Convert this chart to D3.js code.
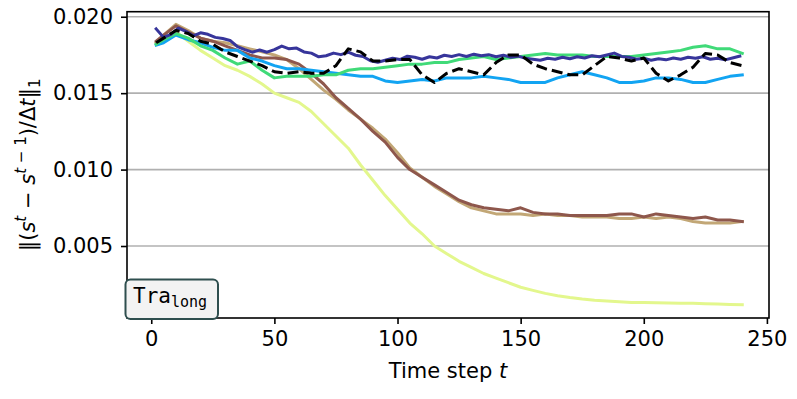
<!DOCTYPE html>
<html>
<head>
<meta charset="utf-8">
<script src="https://cdn.jsdelivr.net/npm/d3@7"></script>
<style>
  body { margin: 0; background: #fff; }
  svg { display: block; font-family: "DejaVu Sans", sans-serif; }
</style>
</head>
<body>
<div id="chart-area"></div>
<script>
const margin = ({top: 11.7, right: 28, bottom: 81, left: 127});
const width = 797, height = 399;

// time steps shared by most runs
const steps = [2, 5, 10, 15, 20, 25, 30, 35, 40, 45, 50, 55, 60, 65, 70, 75, 80, 85, 90, 95,
    100, 105, 110, 115, 120, 125, 130, 135, 140, 145, 150, 155, 160, 165, 170, 175, 180, 185,
    190, 195, 200, 205, 210, 215, 220, 225, 230, 235, 240];

// the navy run is noisy, so it is read more finely
const navySteps = d3.range(2, 240, 3);

const yellowVals = [0.0183, 0.0186, 0.0190, 0.0184, 0.0178, 0.0173, 0.0168, 0.0165, 0.0161, 0.0156,
    0.0150, 0.0147, 0.0144, 0.0138, 0.0130, 0.0122, 0.0114, 0.0103, 0.0093, 0.0083,
    0.0074, 0.0065, 0.0058, 0.0050, 0.0045, 0.0040, 0.0036, 0.0032, 0.0029, 0.0026,
    0.0023, 0.0021, 0.0019, 0.00175, 0.00163, 0.00153, 0.00145, 0.0014, 0.00135, 0.00131,
    0.0013, 0.00128, 0.00127, 0.00126, 0.00125, 0.00123, 0.00121, 0.00118, 0.00116];

const tanVals = [0.0183, 0.0188, 0.0195, 0.0191, 0.0186, 0.0184, 0.0183, 0.0181, 0.0179, 0.0177,
    0.0175, 0.0172, 0.0166, 0.0159, 0.0152, 0.0146, 0.0139, 0.0133, 0.0127, 0.0120,
    0.0111, 0.0101, 0.0095, 0.0089, 0.0084, 0.0079, 0.0075, 0.0073, 0.0071, 0.0071,
    0.0071, 0.0070, 0.0071, 0.0070, 0.0070, 0.0069, 0.0069, 0.0069, 0.0068, 0.0068,
    0.0069, 0.0068, 0.0069, 0.0068, 0.0066, 0.0065, 0.0065, 0.0065, 0.0066];

const brownVals = [0.0184, 0.0188, 0.0194, 0.0190, 0.0186, 0.0184, 0.0181, 0.0178, 0.0175, 0.0173,
    0.0173, 0.0172, 0.0169, 0.0163, 0.0156, 0.0147, 0.0140, 0.0133, 0.0125, 0.0118,
    0.0108, 0.0100, 0.0095, 0.0090, 0.0085, 0.0080, 0.0077, 0.0075, 0.0074, 0.0073,
    0.0075, 0.0072, 0.0071, 0.0071, 0.0070, 0.0070, 0.0070, 0.0070, 0.0071, 0.0071,
    0.0069, 0.0071, 0.0070, 0.0069, 0.0068, 0.0069, 0.0067, 0.0067, 0.0066];

const blueVals = [0.01815, 0.0183, 0.0188, 0.0185, 0.0183, 0.0180, 0.0178, 0.0178, 0.0173, 0.0171,
    0.0168, 0.0166, 0.0166, 0.0165, 0.0164, 0.0163, 0.0162, 0.0161, 0.0161, 0.0158,
    0.0157, 0.0158, 0.0159, 0.0158, 0.0160, 0.0160, 0.0160, 0.0161, 0.0160, 0.0159,
    0.0157, 0.0157, 0.0157, 0.0160, 0.0162, 0.0164, 0.0162, 0.0160, 0.0157, 0.0157,
    0.0158, 0.0160, 0.0160, 0.0159, 0.0157, 0.0157, 0.0159, 0.0161, 0.0162];

const greenVals = [0.0182, 0.0185, 0.0189, 0.0186, 0.0181, 0.0178, 0.0173, 0.0169, 0.0171, 0.0165,
    0.0160, 0.0161, 0.0161, 0.0161, 0.0162, 0.0162, 0.0165, 0.0166, 0.0166, 0.0167,
    0.0168, 0.0169, 0.0169, 0.0170, 0.0170, 0.0172, 0.0173, 0.0174, 0.0172, 0.0173,
    0.0174, 0.0175, 0.0176, 0.0175, 0.0175, 0.0175, 0.0174, 0.0174, 0.0174, 0.0174,
    0.0175, 0.0176, 0.0177, 0.0178, 0.0180, 0.0181, 0.0179, 0.0179, 0.0176];

const navyVals = [0.0192, 0.01865, 0.01885, 0.01925, 0.01905, 0.01875, 0.01895, 0.01885, 0.01865, 0.01858,
    0.01845, 0.01805, 0.01785, 0.01768, 0.01782, 0.01768, 0.01785, 0.01808, 0.01790, 0.01795,
    0.01770, 0.01762, 0.01738, 0.01745, 0.01762, 0.01752, 0.01768, 0.01748, 0.01740, 0.01712,
    0.01702, 0.01715, 0.01728, 0.01720, 0.01742, 0.01735, 0.01722, 0.01738, 0.01730, 0.01748,
    0.01740, 0.01752, 0.01740, 0.01755, 0.01745, 0.01752, 0.01738, 0.01748, 0.01735, 0.01742,
    0.01728, 0.01722, 0.01715, 0.01728, 0.01722, 0.01735, 0.01725, 0.01738, 0.01730, 0.01745,
    0.01738, 0.01750, 0.01762, 0.01740, 0.01735, 0.01722, 0.01728, 0.01715, 0.01725, 0.01718,
    0.01730, 0.01722, 0.01735, 0.01728, 0.01738, 0.01722, 0.01728, 0.01718, 0.01730, 0.01742];

const dashedVals = [0.0183, 0.0186, 0.0191, 0.0189, 0.0184, 0.0182, 0.0177, 0.0174, 0.0171, 0.0168,
    0.0164, 0.0163, 0.0164, 0.0163, 0.0163, 0.0168, 0.0179, 0.0177, 0.0171, 0.0171,
    0.0172, 0.0172, 0.0162, 0.0157, 0.0163, 0.0166, 0.0164, 0.0162, 0.0170, 0.0175,
    0.0175, 0.0169, 0.0166, 0.0164, 0.0162, 0.0162, 0.0168, 0.0174, 0.0173, 0.0171,
    0.0173, 0.0163, 0.0158, 0.0162, 0.0167, 0.0176, 0.0175, 0.0170, 0.0168];

const xTicks = [0, 50, 100, 150, 200, 250];
const yTicks = [0.005, 0.010, 0.015, 0.020];

// drawing order: bottom first
const series = [
    {name: "yellow", t: steps, values: yellowVals, color: "#e3f78d"},
    {name: "tan", t: steps, values: tanVals, color: "#c2a776"},
    {name: "brown", t: steps, values: brownVals, color: "#8e574c"},
    {name: "blue", t: steps, values: blueVals, color: "#12a4f2"},
    {name: "green", t: steps, values: greenVals, color: "#40da78"},
    {name: "navy", t: navySteps, values: navyVals, color: "#37359b"},
    {name: "dashed", t: steps, values: dashedVals, color: "#000000", dash: "11,5"}
];

const x = d3.scaleLinear()
    .domain([-9.85, 250.85])
    .range([margin.left, width - margin.right]);

const y = d3.scaleLinear()
    .domain([0.00029, 0.02033])
    .range([height - margin.bottom, margin.top]);

const svg = d3.select("#chart-area").append("svg")
    .attr("width", width)
    .attr("height", height);

// grid
svg.append("g")
    .selectAll("line")
    .data(yTicks)
    .enter().append("line")
    .attr("x1", margin.left)
    .attr("x2", width - margin.right)
    .attr("y1", d => y(d))
    .attr("y2", d => y(d))
    .attr("stroke", "#b0b0b0")
    .attr("stroke-width", 1.6);

svg.append("g")
    .selectAll("path")
    .data(series)
    .enter().append("path")
    .attr("d", s => d3.line().x((d, i) => x(s.t[i])).y(d => y(d))(s.values))
    .attr("fill", "none")
    .attr("stroke", d => d.color)
    .attr("stroke-width", 3)
    .attr("stroke-dasharray", d => d.dash || null)
    .attr("stroke-linejoin", "round")
    .attr("stroke-linecap", d => d.dash ? "butt" : "square");

// axes
const xAxis = g => g
    .attr("transform", `translate(0,${height - margin.bottom})`)
    .call(d3.axisBottom(x).tickValues(xTicks).tickFormat(d3.format("d")).tickSize(6).tickPadding(7))
    .call(g => g.select(".domain").remove());

const yAxis = g => g
    .attr("transform", `translate(${margin.left},0)`)
    .call(d3.axisLeft(y).tickValues(yTicks).tickFormat(d3.format(".3f")).tickSize(6).tickPadding(8))
    .call(g => g.select(".domain").remove());

svg.append("g").call(xAxis);
svg.append("g").call(yAxis);

svg.selectAll(".tick line").attr("stroke", "#000").attr("stroke-width", 1.6);
svg.selectAll(".tick text")
    .attr("fill", "#000")
    .style("font-size", "21px")
    .style("font-family", "DejaVu Sans");

// frame
svg.append("rect")
    .attr("x", margin.left)
    .attr("y", margin.top)
    .attr("width", width - margin.left - margin.right)
    .attr("height", height - margin.top - margin.bottom)
    .attr("fill", "none")
    .attr("stroke", "#000")
    .attr("stroke-width", 1.6);

// axis labels
const xl = svg.append("text")
    .attr("x", (margin.left + width - margin.right) / 2)
    .attr("y", 378)
    .attr("text-anchor", "middle")
    .style("font-size", "21px");
xl.append("tspan").text("Time step ");
xl.append("tspan").style("font-style", "italic").text("t");

const yl = svg.append("text")
    .attr("transform", `translate(35,${(margin.top + height - margin.bottom) / 2}) rotate(-90)`)
    .attr("text-anchor", "middle")
    .style("font-size", "21px");
yl.append("tspan").text("‖(");
yl.append("tspan").style("font-style", "italic").text("s");
yl.append("tspan").attr("dy", -9).style("font-size", "15px").style("font-style", "italic").text("t");
yl.append("tspan").attr("dy", 9).text(" − ");
yl.append("tspan").style("font-style", "italic").text("s");
yl.append("tspan").attr("dy", -9).style("font-size", "15px").style("font-style", "italic").text("t");
yl.append("tspan").style("font-size", "15px").text(" − 1");
yl.append("tspan").attr("dy", 9).text(")/Δ");
yl.append("tspan").style("font-style", "italic").text("t");
yl.append("tspan").text("‖");
yl.append("tspan").attr("dy", 5).style("font-size", "15px").text("1");

// run label box
const box = svg.append("g");
box.append("rect")
    .attr("x", 125.5)
    .attr("y", 279.5)
    .attr("width", 92.5)
    .attr("height", 39.5)
    .attr("rx", 5)
    .attr("fill", "#f3f3f3")
    .attr("stroke", "#2f4f4f")
    .attr("stroke-width", 2);
const bt = box.append("text")
    .attr("x", 133)
    .attr("y", 302.5)
    .style("font-family", "DejaVu Sans Mono")
    .style("font-size", "21px");
bt.append("tspan").text("Tra");
bt.append("tspan").attr("dy", 4).style("font-size", "15px").text("long");
</script>
</body>
</html>
